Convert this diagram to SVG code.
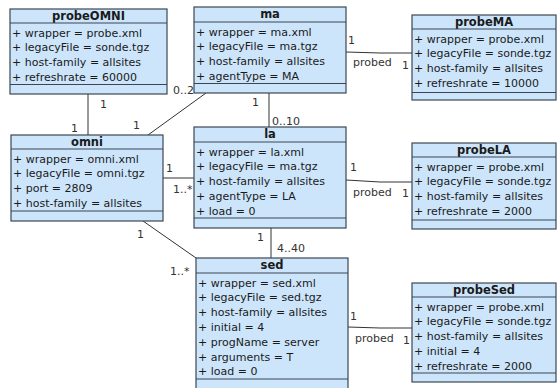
<svg xmlns="http://www.w3.org/2000/svg" width="560" height="388" viewBox="0 0 560 388">
<style>
.box{fill:#cde5fb;stroke:#3b4654;stroke-width:1.2}
.sep{stroke:#3b4654;stroke-width:1.2}
.t{font-family:"DejaVu Sans",sans-serif;font-size:11.5px;font-weight:bold;fill:#1a1a1a;text-anchor:middle}
.a{font-family:"DejaVu Sans",sans-serif;font-size:11px;fill:#1a1a1a}
.l{font-family:"DejaVu Sans",sans-serif;font-size:11px;fill:#333}
.c{stroke:#333;stroke-width:1;fill:none}
</style>
<rect width="560" height="388" fill="#fff"/>
<g id="connectors">
<line class="c" x1="88" y1="94" x2="88" y2="135"/>
<line class="c" x1="206" y1="93" x2="148" y2="135"/>
<line class="c" x1="269" y1="93" x2="269" y2="127"/>
<polyline class="c" points="346,52 380,53 412,53"/>
<line class="c" x1="163" y1="178" x2="194" y2="178"/>
<line class="c" x1="143" y1="221" x2="196" y2="258"/>
<line class="c" x1="271" y1="228" x2="271" y2="258"/>
<polyline class="c" points="346,180 380,182 412,182"/>
<polyline class="c" points="348,327 380,328 412,328"/>
<text class="l" x="100" y="108">1</text>
<text class="l" x="71" y="132">1</text>
<text class="l" x="173" y="94">0..2</text>
<text class="l" x="133" y="129">1</text>
<text class="l" x="252" y="106">1</text>
<text class="l" x="272" y="125">0..10</text>
<text class="l" x="348" y="44">1</text>
<text class="l" x="353" y="66">probed</text>
<text class="l" x="402" y="69">1</text>
<text class="l" x="166" y="172">1</text>
<text class="l" x="173" y="193">1..*</text>
<text class="l" x="137" y="238">1</text>
<text class="l" x="170" y="275">1..*</text>
<text class="l" x="257" y="241">1</text>
<text class="l" x="277" y="252">4..40</text>
<text class="l" x="350" y="171">1</text>
<text class="l" x="353" y="196">probed</text>
<text class="l" x="402" y="197">1</text>
<text class="l" x="350" y="320">1</text>
<text class="l" x="355" y="342">probed</text>
<text class="l" x="403" y="344">1</text>
</g>
<g id="probeOMNI" transform="translate(10,9)">
<rect class="box" x="0" y="0" width="157" height="85"/>
<text class="t" x="78.5" y="11">probeOMNI</text>
<line class="sep" x1="0" y1="14" x2="157" y2="14"/>
<text class="a" x="2" y="27.5">+ wrapper = probe.xml</text>
<text class="a" x="2" y="42.3">+ legacyFile = sonde.tgz</text>
<text class="a" x="2" y="57.1">+ host-family = allsites</text>
<text class="a" x="2" y="71.9">+ refreshrate = 60000</text>
<line class="sep" x1="0" y1="75.5" x2="157" y2="75.5"/>
</g>
<g id="ma" transform="translate(194,7)">
<rect class="box" x="0" y="0" width="152" height="86"/>
<text class="t" x="76" y="11">ma</text>
<line class="sep" x1="0" y1="15" x2="152" y2="15"/>
<text class="a" x="2" y="28.5">+ wrapper = ma.xml</text>
<text class="a" x="2" y="43.3">+ legacyFile = ma.tgz</text>
<text class="a" x="2" y="58.1">+ host-family = allsites</text>
<text class="a" x="2" y="72.9">+ agentType = MA</text>
<line class="sep" x1="0" y1="76.5" x2="152" y2="76.5"/>
</g>
<g id="probeMA" transform="translate(412,15)">
<rect class="box" x="0" y="0" width="144" height="85"/>
<text class="t" x="72" y="11">probeMA</text>
<line class="sep" x1="0" y1="14" x2="144" y2="14"/>
<text class="a" x="2" y="27.5">+ wrapper = probe.xml</text>
<text class="a" x="2" y="42.3">+ legacyFile = sonde.tgz</text>
<text class="a" x="2" y="57.1">+ host-family = allsites</text>
<text class="a" x="2" y="71.9">+ refreshrate = 10000</text>
<line class="sep" x1="0" y1="77.5" x2="144" y2="77.5"/>
</g>
<g id="omni" transform="translate(11,135)">
<rect class="box" x="0" y="0" width="152" height="86"/>
<text class="t" x="76" y="11">omni</text>
<line class="sep" x1="0" y1="14" x2="152" y2="14"/>
<text class="a" x="2" y="27.5">+ wrapper = omni.xml</text>
<text class="a" x="2" y="42.3">+ legacyFile = omni.tgz</text>
<text class="a" x="2" y="57.1">+ port = 2809</text>
<text class="a" x="2" y="71.9">+ host-family = allsites</text>
<line class="sep" x1="0" y1="76" x2="152" y2="76"/>
</g>
<g id="la" transform="translate(194,127)">
<rect class="box" x="0" y="0" width="152" height="101"/>
<text class="t" x="76" y="11">la</text>
<line class="sep" x1="0" y1="15" x2="152" y2="15"/>
<text class="a" x="2" y="28.5">+ wrapper = la.xml</text>
<text class="a" x="2" y="43.3">+ legacyFile = ma.tgz</text>
<text class="a" x="2" y="58.1">+ host-family = allsites</text>
<text class="a" x="2" y="72.9">+ agentType = LA</text>
<text class="a" x="2" y="87.7">+ load = 0</text>
<line class="sep" x1="0" y1="91" x2="152" y2="91"/>
</g>
<g id="probeLA" transform="translate(412,143)">
<rect class="box" x="0" y="0" width="144" height="86"/>
<text class="t" x="72" y="11">probeLA</text>
<line class="sep" x1="0" y1="14" x2="144" y2="14"/>
<text class="a" x="2" y="27.5">+ wrapper = probe.xml</text>
<text class="a" x="2" y="42.3">+ legacyFile = sonde.tgz</text>
<text class="a" x="2" y="57.1">+ host-family = allsites</text>
<text class="a" x="2" y="71.9">+ refreshrate = 2000</text>
<line class="sep" x1="0" y1="77" x2="144" y2="77"/>
</g>
<g id="sed" transform="translate(196,258)">
<rect class="box" x="0" y="0" width="152" height="132"/>
<text class="t" x="76" y="11">sed</text>
<line class="sep" x1="0" y1="15" x2="152" y2="15"/>
<text class="a" x="2" y="28.5">+ wrapper = sed.xml</text>
<text class="a" x="2" y="43.3">+ legacyFile = sed.tgz</text>
<text class="a" x="2" y="58.1">+ host-family = allsites</text>
<text class="a" x="2" y="72.9">+ initial = 4</text>
<text class="a" x="2" y="87.7">+ progName = server</text>
<text class="a" x="2" y="102.5">+ arguments = T</text>
<text class="a" x="2" y="117.3">+ load = 0</text>
<line class="sep" x1="0" y1="121" x2="152" y2="121"/>
</g>
<g id="probeSed" transform="translate(412,283)">
<rect class="box" x="0" y="0" width="144" height="99"/>
<text class="t" x="72" y="11">probeSed</text>
<line class="sep" x1="0" y1="14" x2="144" y2="14"/>
<text class="a" x="2" y="27.5">+ wrapper = probe.xml</text>
<text class="a" x="2" y="42.3">+ legacyFile = sonde.tgz</text>
<text class="a" x="2" y="57.1">+ host-family = allsites</text>
<text class="a" x="2" y="71.9">+ initial = 4</text>
<text class="a" x="2" y="86.7">+ refreshrate = 2000</text>
<line class="sep" x1="0" y1="90" x2="144" y2="90"/>
</g>
</svg>
